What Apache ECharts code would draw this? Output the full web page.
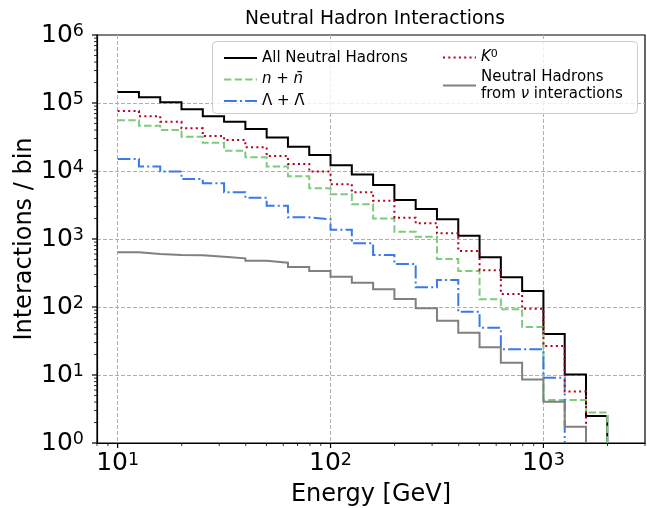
<!DOCTYPE html>
<html><head><meta charset="utf-8">
<script src="https://cdn.jsdelivr.net/npm/echarts@6/dist/echarts.min.js"></script>
<style>html,body{margin:0;padding:0;background:#fff}#c{width:647px;height:508px}</style>
</head><body><div id="c"></div>
<script>
// Bin edges [GeV] (log-spaced, 10 per decade)
const binEdges = [10, 12.59, 15.85, 19.95, 25.12, 31.62, 39.81, 50.12, 63.10, 79.43,
  100, 125.9, 158.5, 199.5, 251.2, 316.2, 398.1, 501.2, 631.0, 794.3, 1000, 1259, 1585, 1995];

// Interactions per bin
const allNeutral = [145000, 121000, 103000, 80700, 64000, 53000, 41500, 31000, 22700, 17200,
  12200, 8900, 6200, 3750, 2760, 1950, 1120, 538, 273, 172, 40, 10.2, 2.5];
const nNbar = [55600, 46400, 40000, 32000, 26000, 19900, 15900, 11600, 8400, 5560,
  4540, 3240, 2010, 1280, 1080, 508, 339, 130, 92.5, 50.8, 4.3, 4.3, 2.8];
const lambdaLbar = [15000, 11600, 9800, 7600, 6600, 4860, 4050, 3090, 2080, 1950,
  1370, 864, 582, 429, 195, 250, 85, 49.6, 23.9, 23.9, 9.1, null, null];
const kaon0 = [76000, 64000, 53000, 42400, 32700, 28600, 22300, 16600, 12700, 9800,
  6400, 4870, 3660, 2060, 1700, 1210, 666, 347, 155, 94, 26.7, 5.7, null];
const fromNu = [637, 601, 582, 575, 549, 520, 480, 449, 387, 338,
  279, 228, 182, 131, 96, 63, 41.9, 25.5, 15.2, 8.6, 4.05, 1.74, null];

// Tick positions
const xMajorTicks = [10, 100, 1000];
const yMajorTicks = [1, 10, 100, 1000, 10000, 100000, 1000000];
const xMinorTicks = [8, 9, 20, 30, 40, 50, 60, 70, 80, 90, 200, 300, 400, 500, 600, 700, 800, 900, 2000, 3000];
const yMinorTicks = [];
for (const d of [1, 10, 100, 1000, 10000, 100000]) for (let m = 2; m <= 9; m++) yMinorTicks.push(m * d);

const seriesNames = ['All Neutral Hadrons', 'n + n\u0304', '\u039b + \u039b\u0304', 'K0', 'Neutral Hadrons\nfrom \u03bd interactions'];
const legendLabels = {
  'All Neutral Hadrons': 'All Neutral Hadrons',
  'n + n\u0304': '{i|n} + {i|n\u0304}',
  '\u039b + \u039b\u0304': '\u039b + \u039b\u0304',
  'K0': '{i|K}{sup|0}',
  'Neutral Hadrons\nfrom \u03bd interactions': 'Neutral Hadrons\nfrom {i|\u03bd} interactions'
};

const X_MIN = 8, X_MAX = 3000, Y_MIN = 1, Y_MAX = 1e6;
const FONT = 'DejaVu Sans';

function stepData(vals) {
  const pts = [];
  let last = -1;
  for (let i = 0; i < vals.length; i++) {
    if (vals[i] == null) continue;
    pts.push([binEdges[i], vals[i]], [binEdges[i + 1], vals[i]]);
    last = i;
  }
  pts.push([binEdges[last + 1], Y_MIN]);
  return pts;
}

function powLabel(v) {
  const e = Math.log10(v);
  const r = Math.round(e);
  if (Math.abs(e - r) > 1e-6) return '';
  return '10{sup|' + r + '}';
}
const tickRich = {
  sup: { fontSize: 17.5, fontFamily: FONT, color: '#000', verticalAlign: 'top', lineHeight: 14 }
};

const styles = [
  { color: '#000000', type: 'solid', width: 2 },
  { color: '#7dcc7d', type: [7.4, 3.2], width: 2 },
  { color: '#3a7ae8', type: [12.8, 3.2, 2, 3.2], width: 2 },
  { color: '#b0001a', type: [2, 3.3], width: 2 },
  { color: '#808080', type: 'solid', width: 2 }
];
const dataSets = [allNeutral, nNbar, lambdaLbar, kaon0, fromNu];

const legendText = {
  fontSize: 15, fontFamily: FONT, color: '#000', lineHeight: 17,
  rich: {
    i: { fontSize: 15, fontFamily: FONT, fontStyle: 'italic', color: '#000', lineHeight: 17 },
    sup: { fontSize: 11, fontFamily: FONT, color: '#000', verticalAlign: 'top', lineHeight: 11 }
  }
};

function tickSeries(axis, values, len, lw) {
  return {
    type: 'custom', silent: true, z: 10, clip: false, legendHoverLink: false,
    data: values.map(v => axis === 'x' ? [v, Y_MIN] : [X_MIN, v]),
    renderItem: (params, api) => {
      const p = api.coord([api.value(0), api.value(1)]);
      const shape = axis === 'x'
        ? { x1: p[0], y1: p[1], x2: p[0], y2: p[1] + len }
        : { x1: p[0], y1: p[1], x2: p[0] - len, y2: p[1] };
      return { type: 'line', shape, style: { stroke: '#000', lineWidth: lw } };
    }
  };
}

const chart = echarts.init(document.getElementById('c'), null, { renderer: 'canvas' });
chart.setOption({
  animation: false,
  backgroundColor: '#fff',
  title: {
    text: 'Neutral Hadron Interactions', top: 5, left: 370, textAlign: 'center',
    textStyle: { fontSize: 18.7, fontWeight: 'normal', fontFamily: FONT, color: '#000' }
  },
  grid: {
    left: 97, right: 2, top: 35, bottom: 65, containLabel: false, outerBoundsMode: 'none',
    show: true, borderColor: '#000', borderWidth: 1.2, backgroundColor: 'transparent'
  },
  graphic: [{
    type: 'rect', left: 212, top: 41, z: 3,
    shape: { width: 425, height: 72, r: 4 },
    style: { fill: 'rgba(255,255,255,0.8)', stroke: '#cccccc', lineWidth: 1 }
  }],
  legend: [
    {
      data: seriesNames.slice(0, 3), orient: 'vertical', left: 218, top: 44.5, z: 4,
      itemWidth: 33, itemHeight: 14, itemGap: 4.5, itemStyle: { opacity: 0 },
      formatter: n => legendLabels[n], textStyle: legendText, selectedMode: false
    },
    {
      data: seriesNames.slice(3), orient: 'vertical', left: 437, top: 44, z: 4,
      itemWidth: 33, itemHeight: 14, itemGap: 2.5, itemStyle: { opacity: 0 },
      formatter: n => legendLabels[n], textStyle: legendText, selectedMode: false
    }
  ],
  xAxis: {
    type: 'log', logBase: 10, min: X_MIN, max: X_MAX,
    name: 'Energy [GeV]', nameLocation: 'middle', nameGap: 40, nameMoveOverlap: false,
    nameTextStyle: { fontSize: 24, fontFamily: FONT, color: '#000' },
    axisLine: { show: true, lineStyle: { color: '#000', width: 1.2 } },
    axisTick: { show: false },
    axisLabel: { formatter: powLabel, fontSize: 25, fontFamily: FONT, color: '#000', margin: 8, rich: tickRich },
    splitLine: { show: true, showMinLine: false, showMaxLine: false, lineStyle: { type: [4, 2], color: '#b0b0b0', width: 1 } }
  },
  yAxis: {
    type: 'log', logBase: 10, min: Y_MIN, max: Y_MAX,
    name: 'Interactions / bin', nameLocation: 'middle', nameGap: 60, nameMoveOverlap: false,
    nameTextStyle: { fontSize: 24, fontFamily: FONT, color: '#000' },
    axisLine: { show: true, lineStyle: { color: '#000', width: 1.2 } },
    axisTick: { show: false },
    axisLabel: { formatter: powLabel, fontSize: 25, fontFamily: FONT, color: '#000', margin: 13, rich: tickRich },
    splitLine: { show: true, showMinLine: false, showMaxLine: false, lineStyle: { type: [4, 2], color: '#b0b0b0', width: 1 } }
  },
  series: seriesNames.map((name, k) => ({
    name, type: 'line', data: stepData(dataSets[k]),
    showSymbol: false, symbol: 'none', clip: true, z: 2 + k * 0.01,
    lineStyle: { color: styles[k].color, type: styles[k].type, width: styles[k].width, cap: 'butt', join: 'miter' },
    itemStyle: { color: styles[k].color }
  })).concat([
    tickSeries('x', xMajorTicks, 5, 1.2),
    tickSeries('y', yMajorTicks, 5, 1.2),
    tickSeries('x', xMinorTicks, 3, 0.8),
    tickSeries('y', yMinorTicks, 3, 0.8)
  ])
});
</script></body></html>
